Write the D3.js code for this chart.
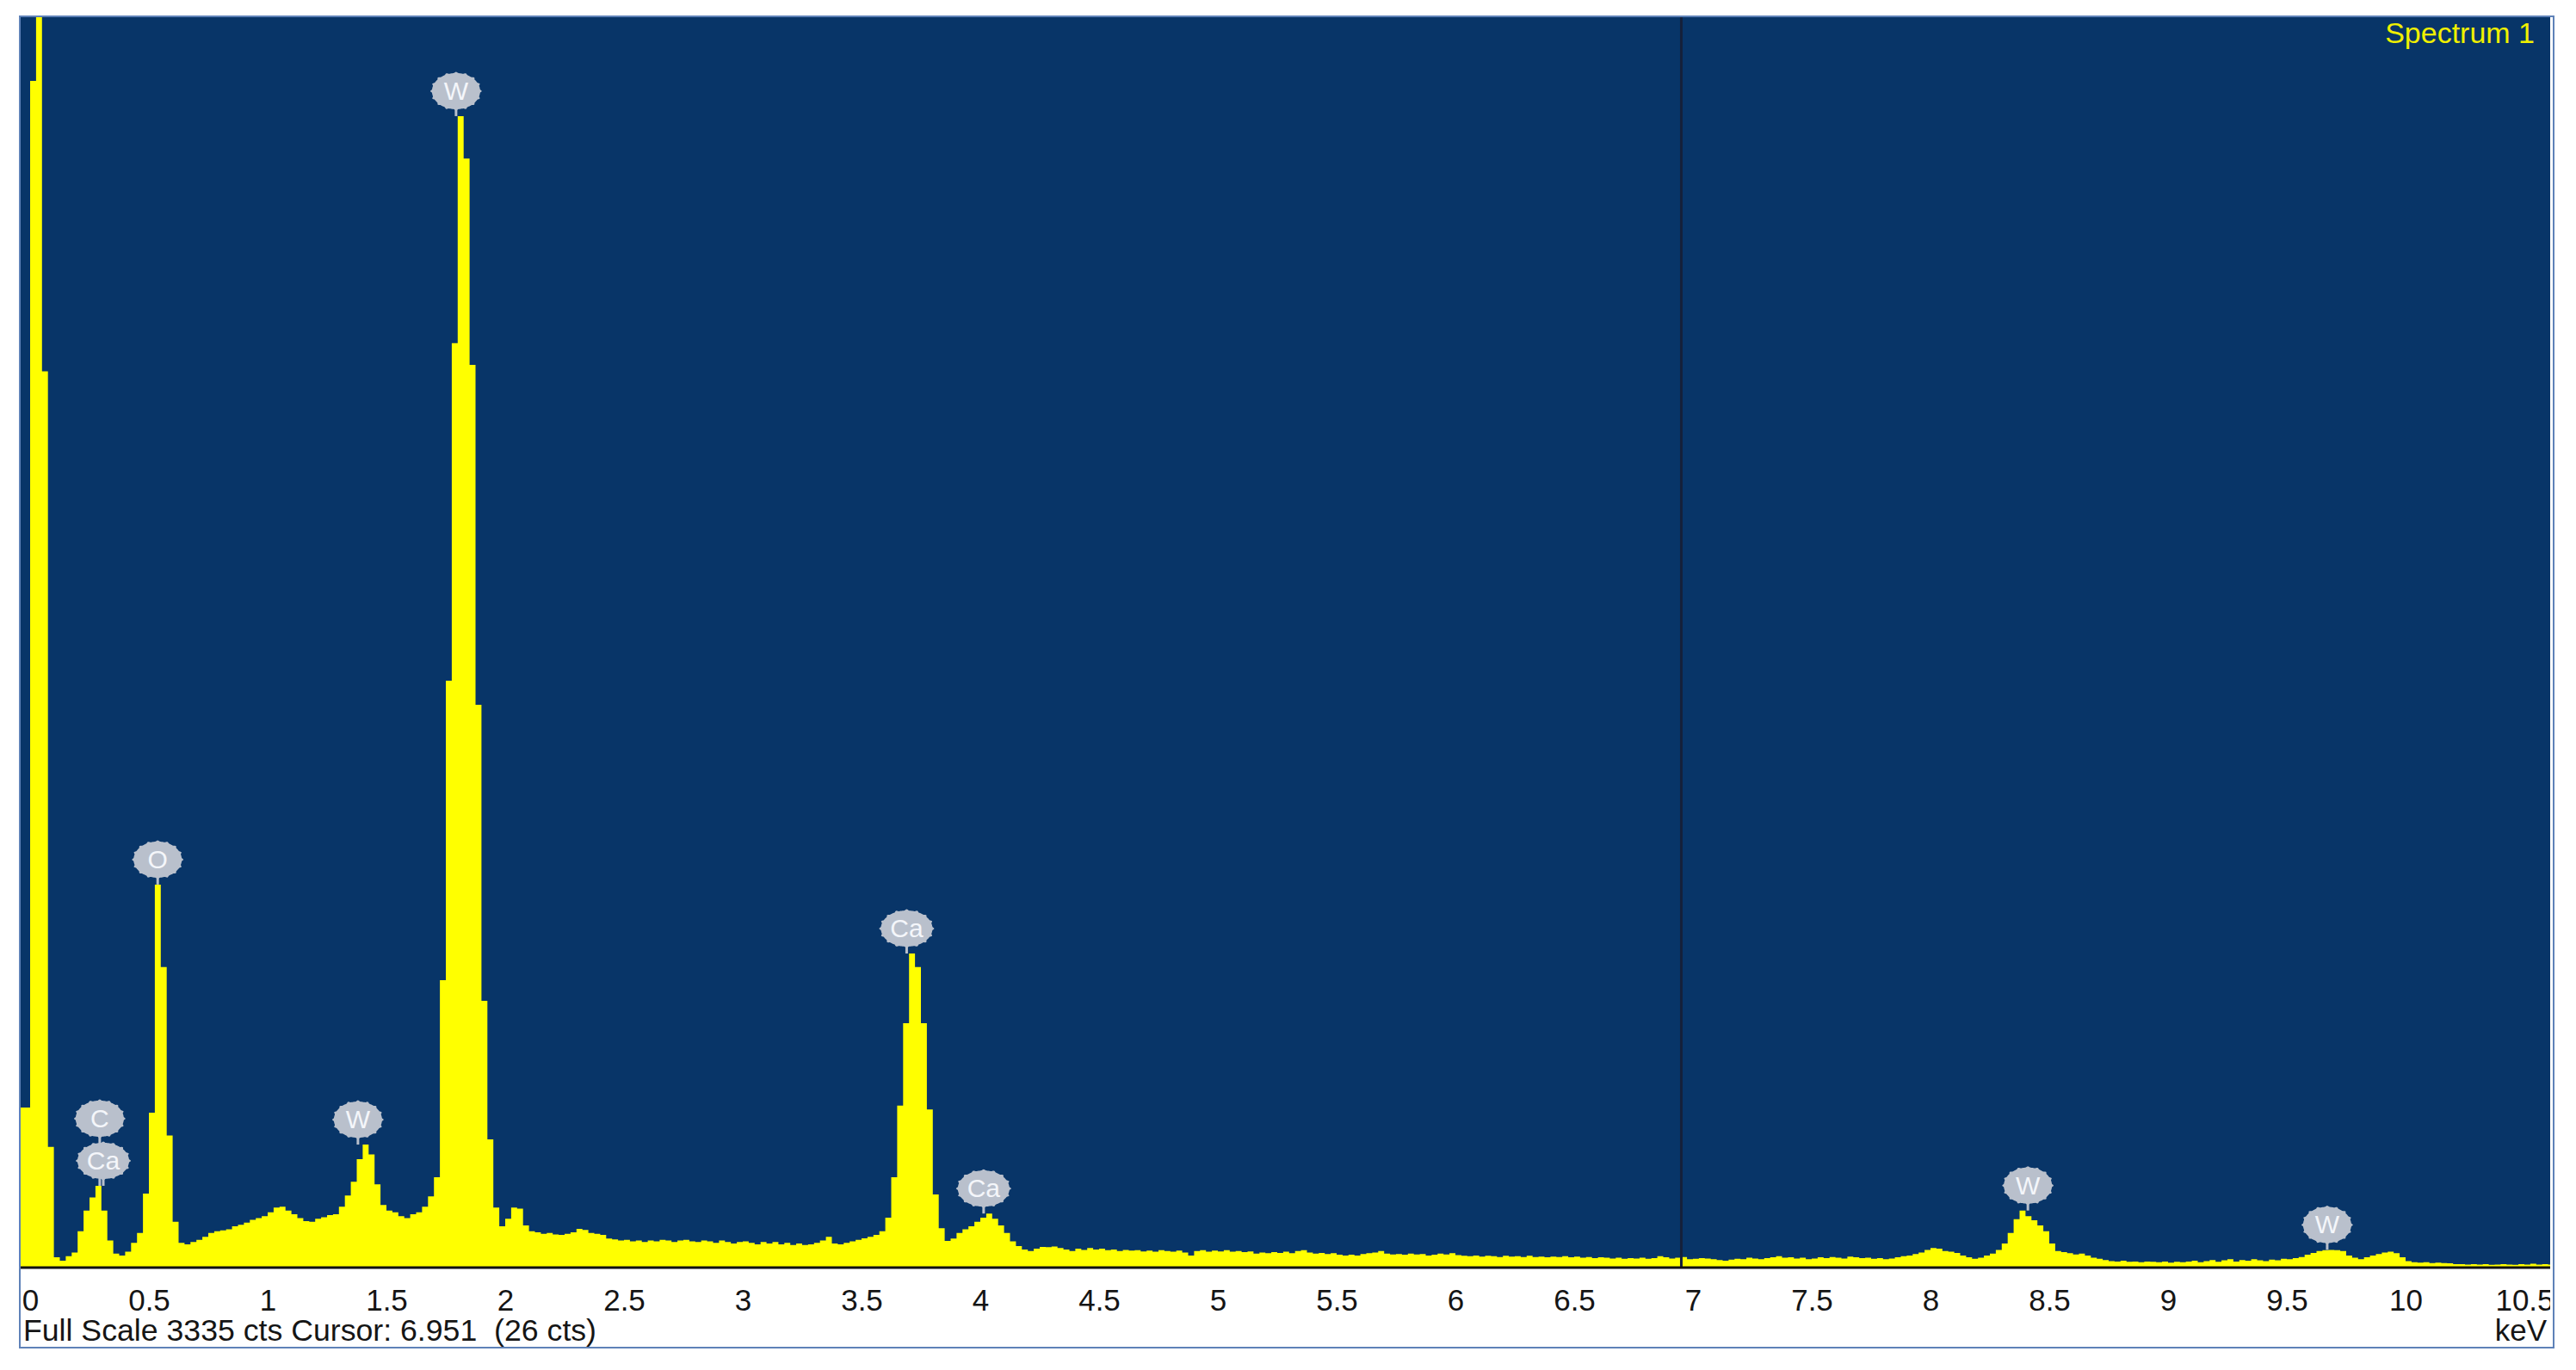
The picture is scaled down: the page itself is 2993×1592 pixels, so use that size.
<!DOCTYPE html>
<html><head><meta charset="utf-8">
<script src="https://cdn.jsdelivr.net/npm/d3@7"></script>
<style>body{margin:0;background:#fff} svg{display:block} text{font-family:"Liberation Sans",Arial,sans-serif}</style>
</head><body>
<svg id="c" width="2993" height="1592"></svg>
<script>
// ---------- data ----------
const binWidth = 0.025; // keV per channel
const countsStartA = -0.05;
const countsA = [
425,425,3165,3400,2390,320,25,16,28,38,
95,150,185,216,150,70,35,30,40,64,
90,195,411,1020,800,350,120,64,60,66,
72,80,90,95,97,100,108,112,118,125,
130,135,145,158,160,150,140,130,122,120,
128,132,138,140,160,190,227,287,326,300,
220,165,150,145,135,130,140,145,160,188,
239,765,1564,2465,3071,2958,2407,1500,710,340,
158,108];
const countsStartB = 2.0;
const countsB = [
128,158,155,110,95,92,88,90,86,85,
88,92,101,98,90,88,85,75,73,70,
72,68,70,66,70,68,72,70,66,70,
72,68,66,70,68,64,70,66,62,66,
68,64,60,66,62,66,60,64,58,62,
58,60,64,70,80,62,60,64,68,72,
76,80,85,95,131,239,430,650,836,800,
650,420,193,103,69,75,90,100,108,120,
131,142,128,110,90,68,55,46,42,48,
53,52,54,50,46,42,48,45,50,46];
const countsStartC = 4.5;
const countsC = [
48,44,46,42,45,43,44,41,43,40,
44,42,40,43,38,30,42,44,40,43,
41,44,40,42,39,41,35,38,36,39,
37,40,36,42,44,38,35,37,34,36,
32,30,32,30,34,36,38,42,35,33,
34,32,35,33,34,30,32,35,33,36,
31,29,28,30,27,29,28,26,29,27,
28,26,29,26,27,25,27,26,28,25,
27,24,26,23,25,24,22,24,21,23,
22,24,21,23,28,25,22,24,26,20];
const countsStartD = 7.0;
const countsD = [
21,23,22,20,18,16,19,21,20,24,
22,20,23,25,28,24,25,22,24,20,
22,25,23,26,24,22,27,25,23,24,
21,23,20,22,25,28,30,34,38,45,
50,48,42,40,37,30,25,21,24,30,
35,45,62,90,127,150,135,124,110,95,
62,42,39,36,33,35,30,24,21,18,
15,14,16,13,14,12,14,13,12,14,
11,13,12,14,16,12,15,18,13,17,
20,14,18,16,20,17,15,19,17,21,
20,23,26,32,37,42,44,45,44,42,
30,24,20,25,30,34,38,40,36,25,
15,12,11,12,10,11,10,9,7,7,
6,7,6,7,5,6,7,6,5,7,
6,8,6,7,6];

const majorTicks = [0,0.5,1,1.5,2,2.5,3,3.5,4,4.5,5,5.5,6,6.5,7,7.5,8,8.5,9,9.5,10,10.5];
const tickLabels = ["0","0.5","1","1.5","2","2.5","3","3.5","4","4.5","5","5.5","6","6.5","7","7.5","8","8.5","9","9.5","10","10.5"];
const minorTicks = [0.1,0.2,0.3,0.4,0.6,0.7,0.8,0.9,1.1,1.2,1.3,1.4,1.6,1.7,1.8,1.9,2.1,2.2,2.3,2.4,2.6,2.7,2.8,2.9,3.1,3.2,3.3,3.4,3.6,3.7,3.8,3.9,4.1,4.2,4.3,4.4,4.6,4.7,4.8,4.9,5.1,5.2,5.3,5.4,5.6,5.7,5.8,5.9,6.1,6.2,6.3,6.4,6.6,6.7,6.8,6.9,7.1,7.2,7.3,7.4,7.6,7.7,7.8,7.9,8.1,8.2,8.3,8.4,8.6,8.7,8.8,8.9,9.1,9.2,9.3,9.4,9.6,9.7,9.8,9.9,10.1,10.2,10.3,10.4,10.6];

const peakLabels   = ["C","Ca","O","W","W","Ca","Ca","W","W"];
const peakEnergies = [0.293,0.308,0.537,1.38,1.793,3.69,4.014,8.41,9.67];
const peakStack    = [1,0,0,0,0,0,0,0,0];

const fullScale = 3335;
const cursorKeV = 6.951;
const cursorCounts = 26;
const spectrumName = "Spectrum 1";
const unitLabel = "keV";

// ---------- build ----------
const segs = [[countsStartA,countsA],[countsStartB,countsB],[countsStartC,countsC],[countsStartD,countsD]];
const spectrum = [];
segs.forEach(([s,arr]) => arr.forEach((c,i) => spectrum.push({e: s + i*binWidth, c})));
const last = spectrum[spectrum.length-1];
const spectrumPts = spectrum.concat([{e: last.e + binWidth, c: last.c}]);

const svg = d3.select("#c");
const L = 24, R = 2963, T = 20, B = 1472, FB = 1565, FR = 2966;
const FONT = '"Liberation Sans",Arial,sans-serif';

const x = d3.scaleLinear().domain([0, 10.5]).range([35, 35 + 10.5*276]);
const y = d3.scaleLinear().domain([0, fullScale]).range([B, T]);

const defs = svg.append("defs");
defs.append("clipPath").attr("id","plotclip").append("rect").attr("x",L).attr("y",T).attr("width",R-L).attr("height",B-T);
defs.append("clipPath").attr("id","frameclip").append("rect").attr("x",L+2).attr("y",T).attr("width",R-L-2).attr("height",FB-T);

// frame
svg.append("rect").attr("x",L-1).attr("y",T-1).attr("width",FR-L+2).attr("height",FB-T+2)
  .attr("fill","#fff").attr("stroke","#5f82b8").attr("stroke-width",2);
// plot background
svg.append("rect").attr("x",L).attr("y",T).attr("width",R-L).attr("height",B-T).attr("fill","#083568");

// spectrum
const area = d3.area().curve(d3.curveStepAfter)
  .x(d => x(d.e)).y0(y(0)).y1(d => y(Math.min(d.c, fullScale*1.05)));
svg.append("path").datum(spectrumPts).attr("clip-path","url(#plotclip)")
  .attr("d", area).attr("fill","#ffff00");

// cursor
svg.append("line").attr("x1",x(cursorKeV)).attr("x2",x(cursorKeV)).attr("y1",T).attr("y2",B)
  .attr("stroke","#15203a").attr("stroke-width",3);

// axis line + ticks
const axG = svg.append("g").attr("transform",`translate(0,${B})`).attr("clip-path","url(#frameclip)");
axG.append("g").call(d3.axisBottom(x).tickValues(minorTicks).tickSize(8).tickFormat(""))
  .call(g => g.select(".domain").remove())
  .selectAll("line").attr("stroke","#111").attr("stroke-width",3);
const major = axG.append("g").call(d3.axisBottom(x).tickValues(majorTicks).tickSize(13).tickFormat((d,i)=>tickLabels[i]));
major.select(".domain").remove();
major.selectAll("line").attr("stroke","#111").attr("stroke-width",3);
major.selectAll("text").attr("y",51).attr("dy",0).attr("font-size",35)
  .attr("font-family",FONT).attr("fill","#151515");
svg.append("line").attr("x1",L).attr("x2",R).attr("y1",B+1).attr("y2",B+1).attr("stroke","#111").attr("stroke-width",3);

// bottom texts
svg.append("text").attr("x",L+3).attr("y",1558).attr("font-size",35).attr("fill","#151515")
  .style("white-space","pre")
  .attr("textLength",666).attr("lengthAdjust","spacingAndGlyphs")
  .text(`Full Scale ${fullScale} cts Cursor: ${cursorKeV}  (${cursorCounts} cts)`);
svg.append("text").attr("x",R-4).attr("y",1558).attr("text-anchor","end").attr("font-size",35).attr("fill","#151515").text(unitLabel);

// spectrum name
svg.append("text").attr("x",2945).attr("y",50).attr("text-anchor","end").attr("font-size",34)
  .attr("fill","#f0f000").text(spectrumName);

// peak labels
function peakTop(e){
  let m = 0;
  spectrum.forEach(d => { if (Math.abs(d.e + binWidth/2 - e) <= 0.04) m = Math.max(m, d.c); });
  return y(Math.min(m, fullScale));
}
function bubblePath(rx, ry){
  const pts = [];
  for (let k=0;k<=160;k++){
    const t = k/160*2*Math.PI;
    const r = 1 + 0.07*Math.pow(Math.max(0,Math.cos(16*t)),2);
    pts.push([rx*r*Math.cos(t), ry*r*Math.sin(t)]);
  }
  return d3.line()(pts) + "Z";
}
const labs = peakLabels.map((t,i) => {
  const top = peakTop(peakEnergies[i]);
  return {t, cx: x(peakEnergies[i]), top, cy: top - 29 - peakStack[i]*49};
});
const lg = svg.append("g");
lg.selectAll("line").data(labs).join("line")
  .attr("x1",d=>d.cx).attr("x2",d=>d.cx).attr("y1",d=>d.cy).attr("y2",d=>d.top)
  .attr("stroke","#b9c0cc").attr("stroke-width",3);
const bub = lg.selectAll("g.b").data(labs).join("g").attr("class","b")
  .attr("transform",d=>`translate(${d.cx},${d.cy})`);
bub.append("path").attr("d", d => bubblePath(d.t.length>1?30:28, 21)).attr("fill","#b9c0cc");
bub.append("text").attr("text-anchor","middle").attr("y",10).attr("font-size",30)
  .attr("fill","#f4f6fa").text(d=>d.t);
</script>
</body></html>
